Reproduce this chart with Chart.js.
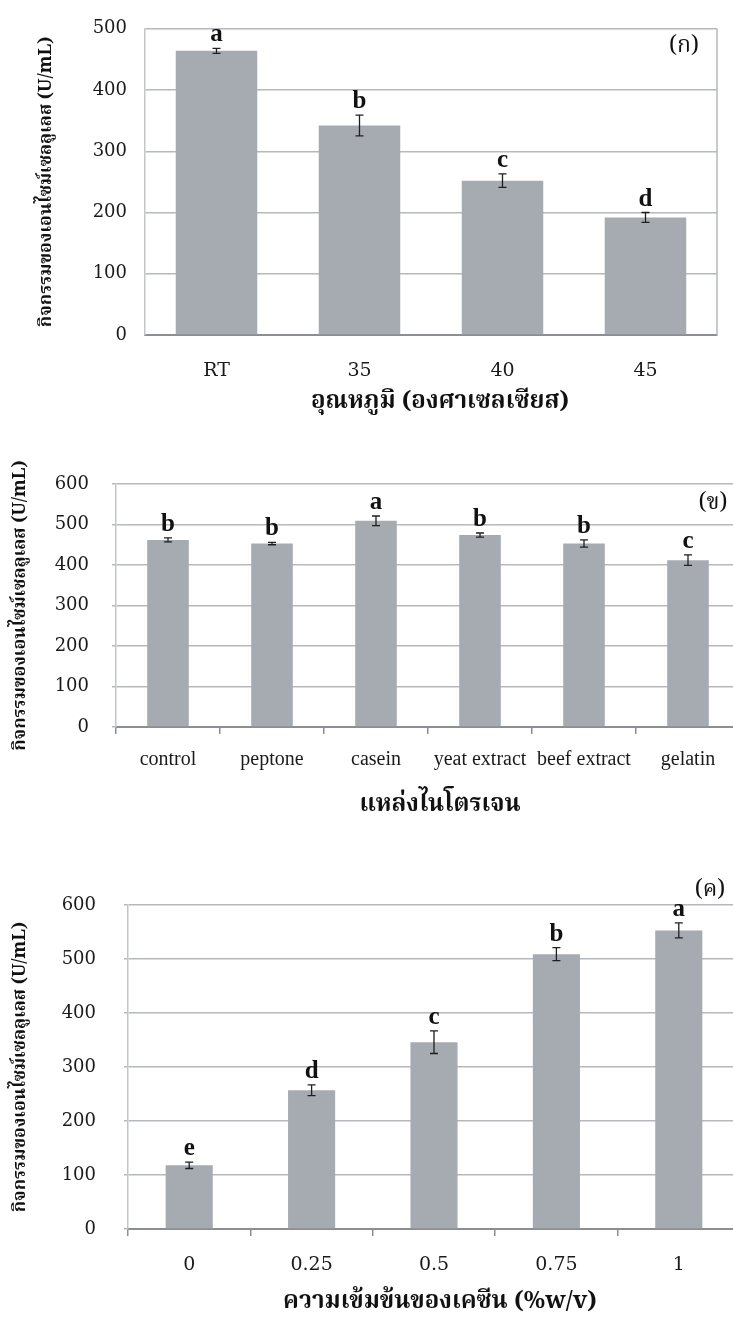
<!DOCTYPE html>
<html>
<head>
<meta charset="utf-8">
<script src="https://cdn.jsdelivr.net/npm/chart.js@4.4.1/dist/chart.umd.min.js"></script>
<style>
  html, body { margin: 0; padding: 0; background: #fff; }
  body { position: relative; width: 733px; height: 1321px; overflow: hidden; }
  canvas { position: absolute; left: 0; }
</style>
</head>
<body>
<canvas id="temp" width="733" height="430" style="top:0px"></canvas>
<canvas id="nitro" width="745" height="400" style="top:440px"></canvas>
<canvas id="casein" width="745" height="461" style="top:860px"></canvas>

<script>
// (ก) temperature
const tempLabels = ['RT', '35', '40', '45'];
const tempMeans = [464, 342, 252, 192];
const tempErr = [4, 17, 11, 8];
const tempGroups = ['a', 'b', 'c', 'd'];

// (ข) nitrogen source
const nitroLabels = ['control', 'peptone', 'casein', 'yeat extract', 'beef extract', 'gelatin'];
const nitroMeans = [462, 453, 509, 474, 453, 412];
const nitroErr = [5, 3, 12, 5, 9, 13];
const nitroGroups = ['b', 'b', 'a', 'b', 'b', 'c'];

// (ค) casein concentration
const caseinLabels = ['0', '0.25', '0.5', '0.75', '1'];
const caseinMeans = [118, 257, 346, 509, 553];
const caseinErr = [6, 10, 21, 12, 14];
const caseinGroups = ['e', 'd', 'c', 'b', 'a'];

const yTitle = 'กิจกรรมของเอนไซม์เซลลูเลส (U/mL)';
const thaiFont = '"Noto Serif Thai", "Noto Sans Thai", "Loma", "Garuda", "Liberation Serif", serif';
const barColor = '#a6abb2';
const gridColor = '#b5b8bc';

// error bars, group letters, titles and the panel tag
const annot = {
  id: 'annot',
  afterDatasetsDraw(chart, args, o) {
    const ctx = chart.ctx, x = chart.scales.x, y = chart.scales.y;
    const ds = chart.data.datasets[0];
    ctx.save();
    ctx.strokeStyle = '#1f1f1f';
    ctx.lineWidth = 1.3;
    ctx.fillStyle = '#111';
    ctx.font = 'bold 25px "Liberation Serif", serif';
    ctx.textAlign = 'center';
    ctx.textBaseline = 'alphabetic';
    ds.data.forEach((v, i) => {
      const cx = x.getPixelForValue(i);
      const top = y.getPixelForValue(v + ds.err[i]);
      const bot = y.getPixelForValue(v - ds.err[i]);
      ctx.beginPath();
      ctx.moveTo(cx, top); ctx.lineTo(cx, bot);
      ctx.moveTo(cx - 4, top); ctx.lineTo(cx + 4, top);
      ctx.moveTo(cx - 4, bot); ctx.lineTo(cx + 4, bot);
      ctx.stroke();
      ctx.fillText(ds.groups[i], cx, top - 7);
    });
    ctx.restore();
  },
  afterDraw(chart, args, o) {
    const ctx = chart.ctx, a = chart.chartArea;
    ctx.save();
    if (o.frameRight) {
      ctx.strokeStyle = gridColor;
      ctx.lineWidth = 1.5;
      ctx.beginPath();
      ctx.moveTo(a.right, a.top); ctx.lineTo(a.right, a.bottom);
      ctx.stroke();
    }
    ctx.fillStyle = '#111';
    ctx.textAlign = 'center';
    ctx.textBaseline = 'middle';
    ctx.font = 'bold 24px ' + thaiFont;
    ctx.fillText(o.xTitle, 440, o.xTitleY);
    ctx.save();
    ctx.translate(o.yTitleX, (a.top + a.bottom) / 2);
    ctx.rotate(-Math.PI / 2);
    ctx.font = 'bold 18px ' + thaiFont;
    ctx.fillText(yTitle, 0, 0);
    ctx.restore();
    ctx.font = '23px ' + thaiFont;
    ctx.fillText(o.tag, o.tagX, o.tagY);
    ctx.restore();
  }
};

function makeChart(id, labels, means, err, groups, cfg) {
  const canvas = document.getElementById(id);
  const W = canvas.width, H = canvas.height;
  return new Chart(canvas.getContext('2d'), {
    type: 'bar',
    data: {
      labels: labels,
      datasets: [{
        data: means,
        err: err,
        groups: groups,
        backgroundColor: barColor,
        borderWidth: 0,
        barPercentage: cfg.barPct,
        categoryPercentage: 1
      }]
    },
    options: {
      responsive: false,
      animation: false,
      layout: { padding: { top: cfg.top, right: W - cfg.right, left: 0, bottom: 0 } },
      plugins: {
        legend: { display: false },
        tooltip: { enabled: false },
        annot: cfg.annot
      },
      scales: {
        x: {
          grid: {
            display: cfg.xTicks,
            drawOnChartArea: false,
            offset: true,
            tickLength: 7,
            color: '#8b8e92',
            lineWidth: 1.5
          },
          border: { color: '#8b8e92', width: 2 },
          ticks: {
            color: '#1a1a1a',
            padding: cfg.xPad,
            maxRotation: 0,
            autoSkip: false,
            font: cfg.xFont
          },
          afterFit(s) { s.height = H - cfg.bottom; }
        },
        y: {
          min: 0,
          max: cfg.max,
          grid: {
            color: gridColor,
            lineWidth: 1.5,
            drawTicks: cfg.yTick > 0,
            tickLength: cfg.yTick
          },
          border: { color: '#c3c6c9', width: 1.5 },
          ticks: {
            stepSize: 100,
            color: '#1a1a1a',
            padding: cfg.yPad,
            font: { family: '"DejaVu Serif", serif', size: 18 }
          },
          afterFit(s) { s.width = cfg.left; }
        }
      }
    },
    plugins: [annot]
  });
}

makeChart('temp', tempLabels, tempMeans, tempErr, tempGroups, {
  top: 21, bottom: 335, left: 145, right: 717, max: 500, barPct: 0.57,
  xTicks: false, xPad: 18, yTick: 0, yPad: 18,
  xFont: { family: '"DejaVu Serif", serif', size: 19 },
  annot: { frameRight: true, xTitle: 'อุณหภูมิ (องศาเซลเซียส)', xTitleY: 404, yTitleX: 48, tag: '(ก)', tagX: 684, tagY: 48 }
});

makeChart('nitro', nitroLabels, nitroMeans, nitroErr, nitroGroups, {
  top: 44, bottom: 287, left: 116, right: 740, max: 600, barPct: 0.40,
  xTicks: true, xPad: 14, yTick: 4, yPad: 23,
  xFont: { family: '"Liberation Serif", serif', size: 20 },
  annot: { frameRight: false, xTitle: 'แหล่งไนโตรเจน', xTitleY: 367, yTitleX: 22, tag: '(ข)', tagX: 713, tagY: 65 }
});

makeChart('casein', caseinLabels, caseinMeans, caseinErr, caseinGroups, {
  top: 45, bottom: 369, left: 128, right: 740, max: 600, barPct: 0.385,
  xTicks: true, xPad: 18, yTick: 4, yPad: 28,
  xFont: { family: '"DejaVu Serif", serif', size: 19 },
  annot: { frameRight: false, xTitle: 'ความเข้มข้นของเคซีน (%w/v)', xTitleY: 444, yTitleX: 22, tag: '(ค)', tagX: 710, tagY: 32 }
});
</script>
</body>
</html>
